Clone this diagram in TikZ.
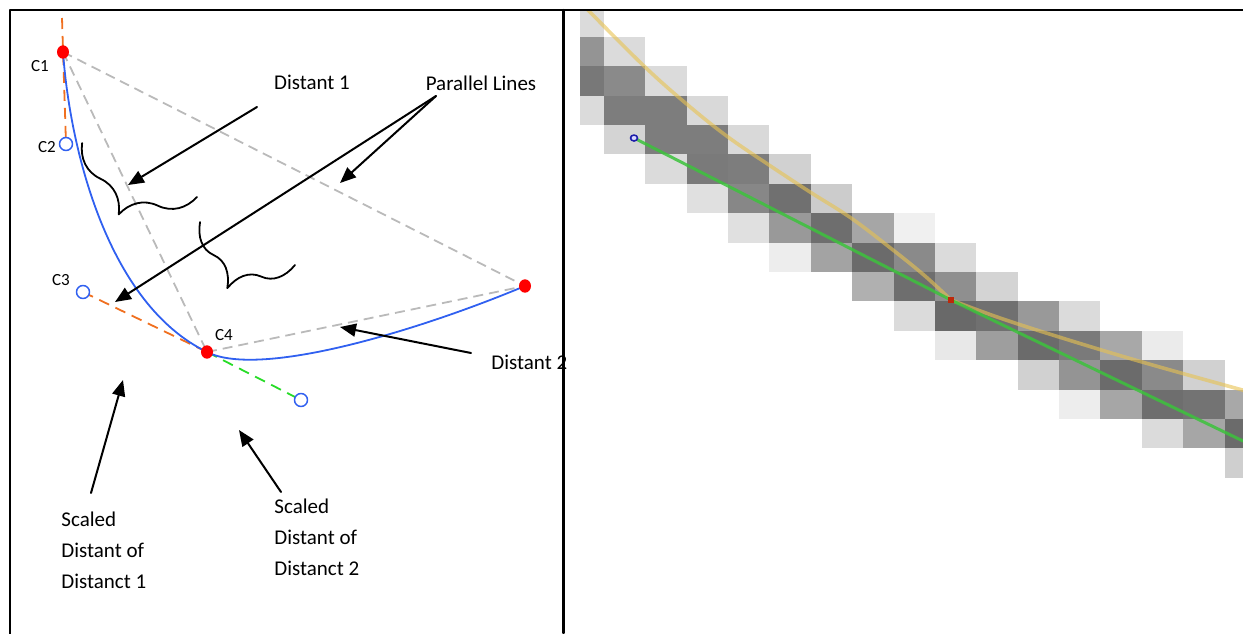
\documentclass[tikz,border=0pt]{standalone}
\usepackage{fontspec}
\setmainfont{Carlito}
\usetikzlibrary{arrows.meta,decorations.pathreplacing}

\definecolor{curveblue}{RGB}{48,96,240}
\definecolor{handleorange}{RGB}{240,112,32}
\definecolor{handlegreen}{RGB}{40,220,40}
\definecolor{guidegray}{RGB}{186,186,186}
\definecolor{pixyellow}{RGB}{232,194,80}
\definecolor{pixgreen}{RGB}{60,195,60}
\definecolor{pixblue}{RGB}{30,30,170}
\definecolor{pixred}{RGB}{190,40,10}

\begin{document}
\begin{tikzpicture}[x=0.5pt,y=-0.5pt,line cap=round,line join=round,
  >={Triangle[length=8pt,width=6.5pt]},
  guide/.style={guidegray,line width=0.9pt,line cap=butt,dash pattern=on 5pt off 3pt},
  handle/.style={line width=0.9pt,line cap=butt,dash pattern=on 5.5pt off 3.5pt},
  ctrlpt/.style={curveblue,line width=0.75pt,fill=white},
  endpt/.style={fill=red},
  pointer/.style={->,line width=1pt},
  hbrace/.style={line width=0.9pt,decorate,decoration={brace,amplitude=24.5pt,aspect=0.5}},
  lbl/.style={inner sep=0pt,font=\fontsize{10.5}{15.5}\selectfont},
  tag/.style={inner sep=0pt,font=\fontsize{8.5}{10}\selectfont}]

\useasboundingbox (0,0) rectangle (1243,633);

\coordinate (C0) at (62,18);
\coordinate (C1) at (63,52);
\coordinate (C2) at (66,144);
\coordinate (C3) at (83,292);
\coordinate (C4) at (207,352);
\coordinate (C5) at (301,400);
\coordinate (P) at (525,286);

\draw[guide] (C1) -- (C4);
\draw[guide] (C1) -- (P);
\draw[guide] (C4) -- (P);
\draw[handle,handleorange] (C0) -- (C2);
\draw[handle,handleorange] (C3) -- (C4);
\draw[handle,handlegreen] (C4) -- (C5);
\draw[curveblue,line width=0.9pt] (C1) .. controls (70,150) and (108,304) .. (C4)
    .. controls (260,379) and (420,330) .. (P);

\fill[endpt] (C1) ellipse (6 and 6.7);
\fill[endpt] (C4) ellipse (6 and 6.7);
\fill[endpt] (P) ellipse (6 and 6.7);
\draw[ctrlpt] (C2) circle (6.5);
\draw[ctrlpt] (C3) circle (6.5);
\draw[ctrlpt] (C5) circle (6.5);

\node[tag] (tC1) at (40,66) {C1};
\node[tag] (tC2) at (47,147) {C2};
\node[tag] (tC3) at (61,280) {C3};
\node[tag] (tC4) at (224,335) {C4};

\coordinate (b1A) at (82,143);
\coordinate (b1B) at (197,197);
\coordinate (b2A) at (200,222);
\coordinate (b2B) at (295,265);
\draw[hbrace] (b1B) -- (b1A);
\draw[hbrace] (b2B) -- (b2A);

\node[lbl] (tDist1) at (312,82) {Distant 1};
\node[lbl] (tPar) at (481,83) {Parallel Lines};
\node[lbl,anchor=west] (tDist2) at (491,362) {Distant 2};
\node[lbl,anchor=west,align=left] (tScaledA) at (61,550) {Scaled\\Distant of\\Distanct 1};
\node[lbl,anchor=west,align=left] (tScaledB) at (274,537) {Scaled\\Distant of\\Distanct 2};

\coordinate (d1Tail) at (257,107);
\coordinate (d1Head) at (128,185);
\coordinate (plTail) at (436,96);
\coordinate (plHeadA) at (340,183);
\coordinate (plHeadB) at (115,302);
\coordinate (d2Tail) at (471,353);
\coordinate (d2Head) at (340,327);
\coordinate (sATail) at (91,493);
\coordinate (sAHead) at (123,380);
\coordinate (sBTail) at (281,492);
\coordinate (sBHead) at (239,430);

\draw[pointer] (d1Tail) -- (d1Head);
\draw[pointer] (plTail) -- (plHeadA);
\draw[pointer] (plTail) -- (plHeadB);
\draw[pointer] (d2Tail) -- (d2Head);
\draw[pointer] (sATail) -- (sAHead);
\draw[pointer] (sBTail) -- (sBHead);

\begin{scope}
    \clip (580,10) rectangle (1243,633);
    \foreach \c/\r/\g in {0/0/14,0/1/42,1/1/14,0/2/53,1/2/46,2/2/14,
        0/3/14,1/3/51,2/3/51,3/3/15,1/4/17,2/4/51,3/4/51,4/4/15,
        2/5/14,3/5/52,4/5/51,5/5/18,3/6/12,4/6/47,5/6/56,6/6/20,
        4/7/12,5/7/40,6/7/57,7/7/35,8/7/6,5/8/7,6/8/36,7/8/58,8/8/46,9/8/14,
        7/9/31,8/9/57,9/9/44,10/9/17,8/10/14,9/10/59,10/10/56,11/10/40,12/10/14,
        9/11/9,10/11/38,11/11/58,12/11/52,13/11/34,14/11/8,
        11/12/18,12/12/42,13/12/58,14/12/46,15/12/18,
        12/13/7,13/13/35,14/13/57,15/13/55,16/13/34,
        14/14/14,15/14/35,16/14/58,16/15/19} {
        \fill[black!\g] ({562.63+41.37*\c},{7.3+29.4*\r}) rectangle ++(41.37,29.4);
    }
    \coordinate (Q0) at (634,138);
    \coordinate (Q1) at (951,300);
    \coordinate (Q2) at (1243,441);
    \draw[pixyellow,line width=1.8pt,opacity=0.6] plot[smooth,tension=0.6] coordinates
        {(586,8) (645,67) (689,106) (728,137) (769,165) (810,192) (851,218) (893,250) (925,276) (951,300)};
    \draw[pixyellow,line width=1.8pt,opacity=0.6] plot[smooth,tension=0.6] coordinates
        {(951,300) (1000,318) (1059,337) (1142,362) (1246,391)};
    \draw[pixgreen,line width=1.5pt,opacity=0.85] (Q0) -- (Q1) -- (Q2);
    \draw[pixblue,line width=0.8pt,fill=blue!15] (Q0) ellipse (3.5 and 3);
    \fill[pixred] (Q1) ++(-3,-3) rectangle ++(6,6);
\end{scope}

\draw[line width=1.2pt,line cap=rect] (10,633) -- (10,10) -- (1243,10);
\draw[line width=1.2pt] (563.5,10) -- (563.5,633);

\end{tikzpicture}
\end{document}
